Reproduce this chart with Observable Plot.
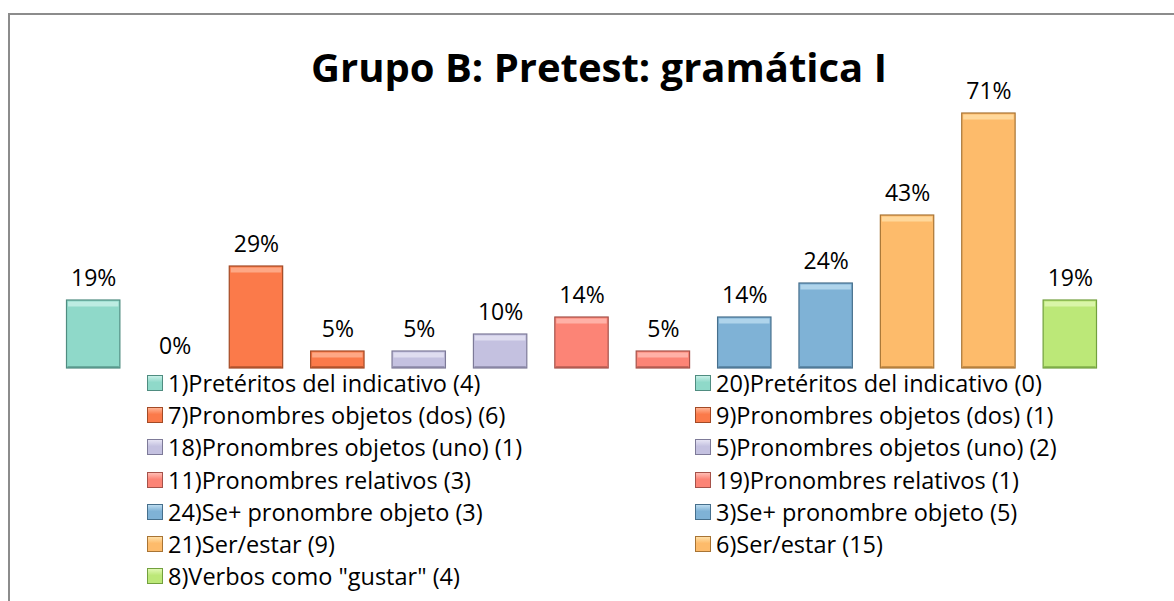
<!DOCTYPE html>
<html>
<head>
<meta charset="utf-8">
<script src="https://cdn.jsdelivr.net/npm/d3@7"></script>
<script src="https://cdn.jsdelivr.net/npm/@observablehq/plot@0.6"></script>
<style>
  html, body { margin: 0; padding: 0; background: #fff; }
  body { width: 1174px; height: 601px; position: relative; overflow: hidden; font-family: "Open Sans", sans-serif; }
  #frame { position: absolute; left: 8px; top: 13px; width: 1200px; height: 700px; border: 2px solid #8c8c8c; box-sizing: border-box; }
  #title { position: absolute; left: 0; width: 1198px; top: 41.5px; text-align: center; font-weight: 700; font-size: 40px; line-height: 50px; color: #000; }
  #chart { position: absolute; left: 0; top: 0; }
  #legend { position: absolute; left: 147px; top: 367px; display: grid; grid-template-columns: 548px 420px; grid-auto-rows: 32.2px; font-size: 23.5px; color: #000; }
  .item { display: flex; align-items: center; height: 32.2px; white-space: nowrap; }
  .sw { width: 16px; height: 16px; box-sizing: border-box; margin-right: 5px; flex: none; }
</style>
</head>
<body>
<div id="frame"></div>
<div id="title">Grupo B: Pretest: gramática I</div>
<div id="chart"></div>
<div id="legend"></div>
<script>
// Data
const items  = ["1", "20", "7", "9", "18", "5", "11", "19", "24", "3", "21", "6", "8"];
const topics = ["Pretéritos del indicativo", "Pretéritos del indicativo",
                "Pronombres objetos (dos)", "Pronombres objetos (dos)",
                "Pronombres objetos (uno)", "Pronombres objetos (uno)",
                "Pronombres relativos", "Pronombres relativos",
                "Se+ pronombre objeto", "Se+ pronombre objeto",
                "Ser/estar", "Ser/estar",
                "Verbos como \"gustar\""];
const counts = [4, 0, 6, 1, 1, 2, 3, 1, 3, 5, 9, 15, 4];
const total = 21;
const topicNames   = ["Pretéritos del indicativo", "Pronombres objetos (dos)", "Pronombres objetos (uno)", "Pronombres relativos", "Se+ pronombre objeto", "Ser/estar", "Verbos como \"gustar\""];
const topicFill    = ["#8fd9c9", "#fb7a4a", "#c4c1e0", "#fc8476", "#7fb2d6", "#fdbb6b", "#bce878"];
const topicStroke  = ["#4f8c80", "#a24a26", "#7d7a98", "#a5524a", "#466f8c", "#a87434", "#72a03e"];
const topicLight   = ["#c8f0e8", "#ffb494", "#e6e4f4", "#ffbdb4", "#bcdcf0", "#ffe0a8", "#e0f8b4"];

const data = items.map((id, i) => {
  const t = topicNames.indexOf(topics[i]);
  return {
    id, topic: topics[i], count: counts[i], value: counts[i] / total,
    fill: topicFill[t], stroke: topicStroke[t], light: topicLight[t],
    label: `${id})${topics[i]} (${counts[i]})`
  };
});
const fmt = d3.format(".0%");
const nonzero = data.filter(d => d.value > 0);

const chart = Plot.plot({
  width: 1174,
  height: 370,
  marginLeft: 38.5,
  marginRight: 49.5,
  marginTop: 11,
  marginBottom: 2,
  x: { domain: items, padding: 0.344, round: false, axis: null },
  y: { domain: [0, 1], axis: null },
  color: { type: "identity" },
  marks: [
    Plot.barY(nonzero, { x: "id", y: "value", fill: "fill", stroke: "stroke", strokeWidth: 1.2 }),
    Plot.tickY(nonzero, { x: "id", y: "value", stroke: "light", strokeWidth: 5, dy: 3.5, insetLeft: 1.5, insetRight: 1.5, strokeOpacity: 0.8 }),
    Plot.tickY(nonzero, { x: "id", y: 0, stroke: "stroke", strokeWidth: 2, dy: -1.5, insetLeft: 1, insetRight: 1, strokeOpacity: 0.6 }),
    Plot.text(data, { x: "id", y: "value", text: d => fmt(d.value), lineAnchor: "bottom", dy: -15, fontSize: 23, fill: "#000", fontFamily: "Open Sans" })
  ]
});
document.getElementById("chart").appendChild(chart);

// Legend (row-major, two columns)
const legend = document.getElementById("legend");
data.forEach(d => {
  const el = document.createElement("div");
  el.className = "item";
  const sw = document.createElement("span");
  sw.className = "sw";
  sw.style.background = `linear-gradient(${d.light}, ${d.fill} 45%, ${d.fill})`;
  sw.style.border = `1px solid ${d.stroke}`;
  el.appendChild(sw);
  const tx = document.createElement("span");
  tx.textContent = d.label;
  el.appendChild(tx);
  legend.appendChild(el);
});
</script>
</body>
</html>
